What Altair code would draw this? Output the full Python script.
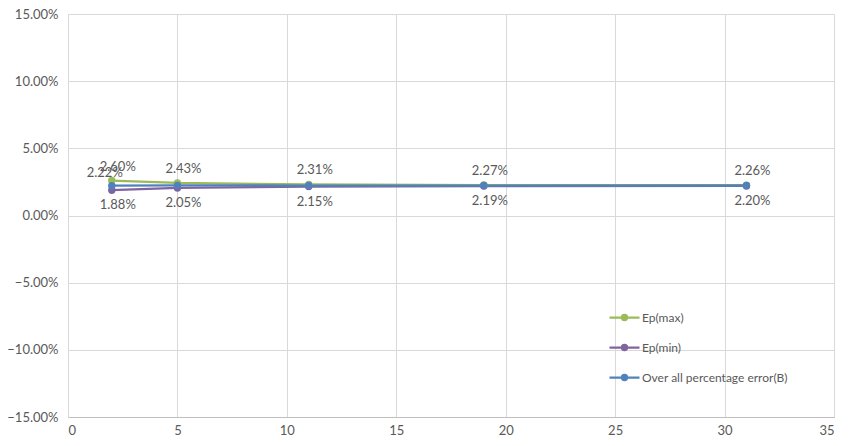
import altair as alt
import pandas as pd

x_vals = [2, 5, 11, 19, 31]
ep_max = [0.0260, 0.0243, 0.0231, 0.0227, 0.0226]
ep_min = [0.0188, 0.0205, 0.0215, 0.0219, 0.0220]
overall_b = [0.0222, 0.0224, 0.0223, 0.0223, 0.0223]
series_names = ["Ep(max)", "Ep(min)", "Over all percentage error(B)"]
series_colors = ["#9BBB59", "#8064A2", "#4F81BD"]
x_ticks = [0, 5, 10, 15, 20, 25, 30, 35]
y_ticks = [-0.15, -0.10, -0.05, 0.0, 0.05, 0.10, 0.15]

rows = []
for name, vals in zip(series_names, [ep_max, ep_min, overall_b]):
    for x, v in zip(x_vals, vals):
        rows.append({"x": x, "y": v, "series": name})
df = pd.DataFrame(rows)

FONT = "Lato"
TXT = "#595959"
GRID = "#d9d9d9"

color_scale = alt.Scale(domain=series_names, range=series_colors)
legend_path = ("M-1,0L1,0M-0.17,0A0.17,0.17,0,1,0,0.17,0"
               "A0.17,0.17,0,1,0,-0.17,0Z")

x_enc = alt.X("x:Q", scale=alt.Scale(domain=[0, 35], nice=False),
              axis=alt.Axis(values=x_ticks, title=None, grid=True, gridColor=GRID,
                            domainColor="#bfbfbf", ticks=False, labelPadding=7,
                            labelFontSize=13, labelColor=TXT, labelFont=FONT))
y_enc = alt.Y("y:Q", scale=alt.Scale(domain=[-0.15, 0.15], nice=False),
              axis=alt.Axis(values=y_ticks, format=".2%", title=None, grid=True,
                            gridColor=GRID, domain=False, ticks=False, labelPadding=10,
                            labelFontSize=13, labelColor=TXT, labelFont=FONT))

legend = alt.Legend(title=None, orient="none", legendX=540, legendY=287,
                    symbolType=legend_path, symbolSize=900, symbolStrokeWidth=2.25,
                    rowPadding=6, labelOffset=1, labelFont=FONT, labelFontSize=12,
                    labelColor=TXT)

base = alt.Chart(df)

lines = base.mark_line(strokeWidth=2.25).encode(
    x=x_enc, y=y_enc,
    color=alt.Color("series:N", scale=color_scale, legend=legend),
)
points = base.mark_point(filled=True, size=55, opacity=1).encode(
    x=x_enc, y=y_enc,
    color=alt.Color("series:N", scale=color_scale, legend=legend),
)

lbl_max = base.transform_filter(alt.datum.series == "Ep(max)").mark_text(
    dy=-14, dx=6, font=FONT, fontSize=13, color=TXT
).encode(x="x:Q", y="y:Q", text=alt.Text("y:Q", format=".2%"))

lbl_min = base.transform_filter(alt.datum.series == "Ep(min)").mark_text(
    dy=15, dx=6, font=FONT, fontSize=13, color=TXT
).encode(x="x:Q", y="y:Q", text=alt.Text("y:Q", format=".2%"))

lbl_b = base.transform_filter(
    (alt.datum.series == "Over all percentage error(B)") & (alt.datum.x == 2)
).mark_text(dy=-13, dx=-7, font=FONT, fontSize=13, color=TXT).encode(
    x="x:Q", y="y:Q", text=alt.Text("y:Q", format=".2%"))

chart = alt.layer(lines, points, lbl_max, lbl_min, lbl_b).properties(
    width=766, height=403,
    autosize=alt.AutoSizeParams(type="none"),
    padding={"left": 60, "top": 6, "right": 13, "bottom": 21},
    background="white",
).configure_view(stroke=None)

chart.save("out.html", embed_options={"renderer": "svg", "actions": False})
